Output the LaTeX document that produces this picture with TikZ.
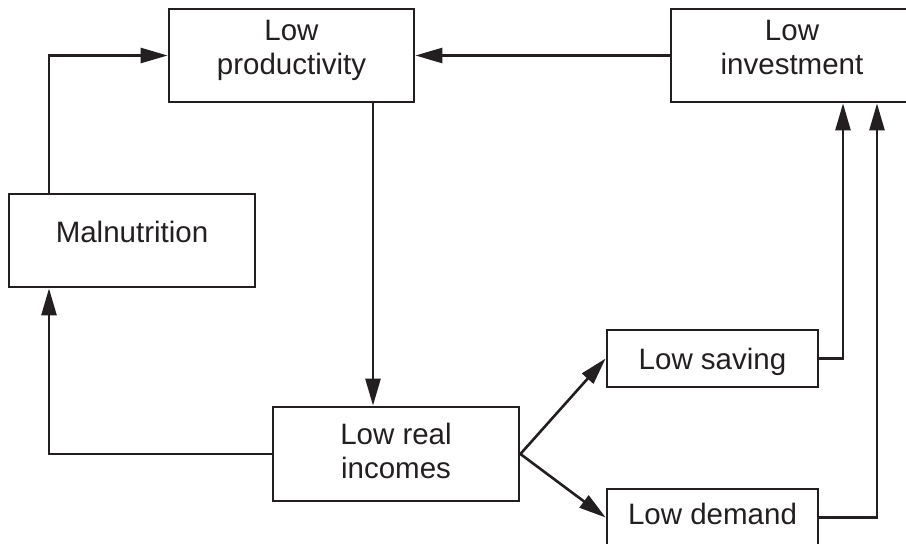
\documentclass[tikz,border=0pt]{standalone}
\usepackage{fontspec}
\setmainfont{Liberation Sans}
\usetikzlibrary{arrows.meta}
\definecolor{ink}{RGB}{35,31,32}
\begin{document}
\begin{tikzpicture}[x=1pt,y=-1pt,
  box/.style={draw=ink, line width=2.8pt, rectangle, inner sep=0pt, align=center,
    text=ink, font=\fontsize{29.5}{34}\selectfont},
  conn/.style={draw=ink, line width=2.6pt},
  arr/.style={conn, -{Triangle[length=27pt,width=15pt]}}]
\useasboundingbox (0,0) rectangle (906,544);
\node[box, minimum width=245pt, minimum height=93pt, text depth=17.3pt] (prod) at (291.5,55.5) {Low\\productivity};
\node[box, minimum width=242pt, minimum height=93pt, text depth=16pt] (inv) at (792,55.5) {Low\\investment};
\node[box, minimum width=246pt, minimum height=93pt, text depth=18pt] (mal) at (132,240.5) {Malnutrition};
\node[box, minimum width=246pt, minimum height=94pt, text depth=6pt] (real) at (396,454) {Low real\\incomes};
\node[box, minimum width=211pt, minimum height=57pt, text depth=0pt] (sav) at (712.5,358.5) {Low saving};
\node[box, minimum width=211pt, minimum height=57pt, text depth=7.2pt] (dem) at (712.5,517.5) {Low demand};
% connectors
\draw[arr] (mal.north -| 49,0) |- (prod.west);
\draw[arr] (inv.west) -- (prod.east);
\draw[arr] (prod.south -| 373,0) -- (real.north -| 373,0);
\draw[arr] (real.west) -| (mal.south -| 49,0);
\draw[arr] (real.east) -- (sav.west);
\draw[arr] (real.east) -- (dem.west);
\draw[arr] (sav.east) -| (inv.south -| 843,0);
\draw[arr] (dem.east) -| (inv.south -| 877,0);
\end{tikzpicture}
\end{document}
